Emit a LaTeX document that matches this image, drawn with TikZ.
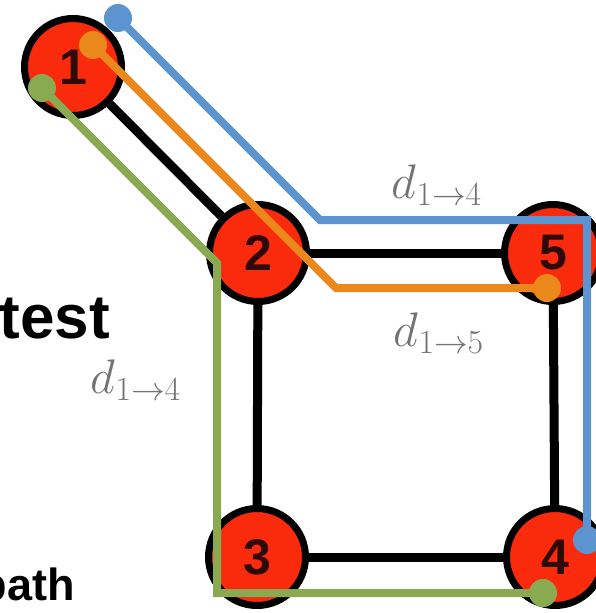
\documentclass[tikz,border=0pt]{standalone}
\usepackage{fontspec}
\usepackage{graphicx}
\usepackage{xcolor}
\newfontfamily\headfont{Liberation Sans}
\usetikzlibrary{positioning}

\definecolor{nodered}{RGB}{250,42,12}
\definecolor{digitdark}{RGB}{45,10,5}
\definecolor{pathblue}{RGB}{92,148,208}
\definecolor{pathorange}{RGB}{234,136,28}
\definecolor{pathgreen}{RGB}{138,170,82}
\newcommand{\distlabel}[1]{\scalebox{1.95}{$d_{#1}$}}

\begin{document}
\begin{tikzpicture}[
    x=1pt, y=-1pt,
    vertex/.style={draw, circle, line width=7pt, fill=nodered, minimum size=97pt, inner sep=0pt, text=digitdark, font=\headfont\bfseries\fontsize{50}{50}\selectfont},
    link/.style={line width=9pt},
    route/.style={line width=8pt, line join=miter},
    dot/.style={radius=14pt},
    dist/.style={text=black!55, inner sep=0pt, font=\fontsize{25}{30}\selectfont},
    bigtxt/.style={inner sep=0pt, font=\headfont\bfseries\fontsize{62}{62}\selectfont},
    smalltxt/.style={inner sep=0pt, font=\headfont\bfseries\fontsize{45}{45}\selectfont}
]
\path[use as bounding box, clip] (0,0) rectangle (596,613);

% graph
\node[vertex] (n1) at (73,67) {1};
\node[vertex] (n2) at (258,253) {2};
\node[vertex] (n5) at (553,253) {5};
\node[vertex] (n3) at (257,557) {3};
\node[vertex] (n4) at (555,557) {4};
\draw[link] (n1) -- (n2);
\draw[link] (n2) -- (n5);
\draw[link] (n2) -- (n3);
\draw[link] (n3) -- (n4);
\draw[link] (n5) -- (n4);

% routes from 1
\coordinate (b0) at (118,18);
\coordinate (b1) at (587,540);
\coordinate (o0) at (93,45);
\coordinate (o1) at (547,288);
\coordinate (g0) at (42,88);
\coordinate (g1) at (543,593);
\draw[route, pathblue] (b0) -- (320,220) -| (b1);
\draw[route, pathorange] (o0) -- (336,288) -- (o1);
\draw[route, pathgreen] (g0) -- (217,263) |- (g1);
\fill[pathblue] (b0) circle[dot] (b1) circle[dot];
\fill[pathorange] (o0) circle[dot] (o1) circle[dot];
\fill[pathgreen] (g0) circle[dot] (g1) circle[dot];

% distances
\node[dist] (d14top) at (437,185) {\distlabel{1\to4}};
\node[dist] (d15) at (439,333) {\distlabel{1\to5}};
\node[dist] (d14left) at (136,380) {\distlabel{1\to4}};

% cropped text
\node[bigtxt, anchor=base east] (tst) at (110,338) {test};
\node[smalltxt, anchor=base east] (pth) at (75,600) {path};
\end{tikzpicture}
\end{document}
